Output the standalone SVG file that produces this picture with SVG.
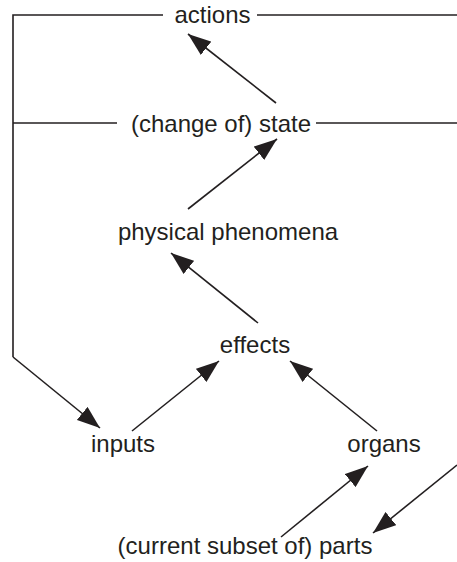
<svg xmlns="http://www.w3.org/2000/svg" width="457" height="562" viewBox="0 0 457 562">
<style>
.t{font-family:"Liberation Sans",Arial,sans-serif;font-size:24px;fill:#231f20;text-anchor:middle}
.l{stroke:#231f20;stroke-width:1.6;fill:none}
.a{stroke:#231f20;stroke-width:1.6;fill:none;marker-end:url(#ah)}
</style>
<defs>
<marker id="ah" markerUnits="userSpaceOnUse" markerWidth="23" markerHeight="17" refX="23" refY="8.5" orient="auto" viewBox="0 0 23 17">
<path d="M0,0 L23,8.5 L0,17 z" fill="#231f20"/>
</marker>
</defs>
<g id="connectors">
<polyline class="l" points="163,15 13,15 13,357"/>
<line class="l" x1="257" y1="15" x2="457" y2="15"/>
<line class="l" x1="13" y1="123" x2="117" y2="123"/>
<line class="l" x1="316" y1="123" x2="457" y2="123"/>
<line class="a" x1="13" y1="357" x2="100" y2="428"/>
<line class="a" x1="276" y1="103" x2="188" y2="34"/>
<line class="a" x1="188" y1="209" x2="277" y2="139"/>
<line class="a" x1="258" y1="323" x2="171" y2="253"/>
<line class="a" x1="132" y1="431" x2="219" y2="361"/>
<line class="a" x1="377" y1="431" x2="290" y2="361"/>
<line class="a" x1="281" y1="537" x2="368" y2="466"/>
<line class="a" x1="457" y1="465" x2="373" y2="533"/>
</g>
<g id="actions"><text class="t" x="212.5" y="23">actions</text></g>
<g id="state"><text class="t" x="221" y="132">(change of) state</text></g>
<g id="phenomena"><text class="t" x="228" y="240">physical phenomena</text></g>
<g id="effects"><text class="t" x="255" y="353">effects</text></g>
<g id="inputs"><text class="t" x="123" y="452">inputs</text></g>
<g id="organs"><text class="t" x="384" y="452">organs</text></g>
<g id="parts"><text class="t" x="245" y="554">(current subset of) parts</text></g>
</svg>
